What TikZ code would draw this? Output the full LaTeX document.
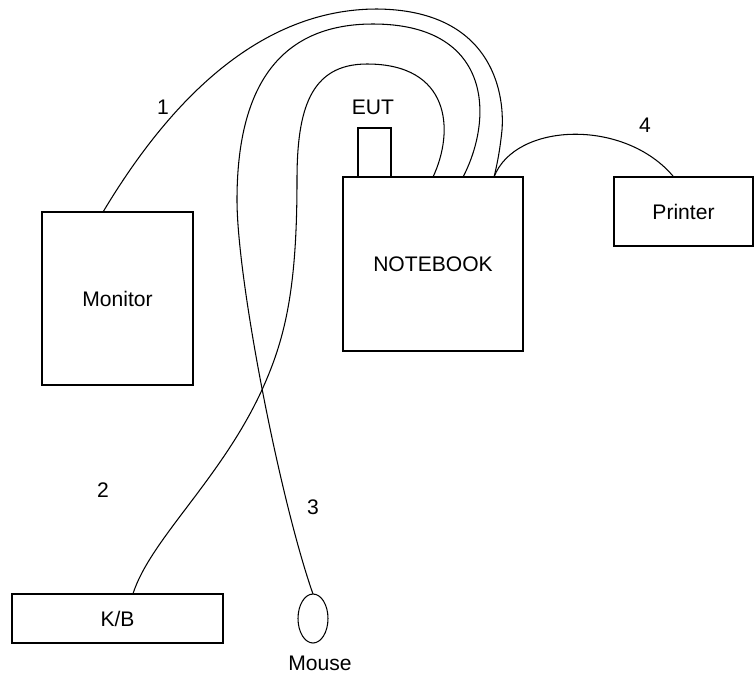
\documentclass[tikz,border=0pt]{standalone}
\usepackage{fontspec}
\setmainfont{Liberation Sans}
\usetikzlibrary{shapes.geometric, positioning, calc}

\begin{document}
\begin{tikzpicture}[
    x=0.02cm, y=-0.02cm,
    every node/.style={font=\fontsize{12}{14}\selectfont},
    box/.style={rectangle, draw, inner sep=0pt, outer sep=0pt, line width=0.6pt},
    mousebox/.style={ellipse, draw, inner sep=0pt, outer sep=0pt, line width=0.6pt, minimum width=0.6cm, minimum height=0.98cm},
    label/.style={inner sep=1pt},
    cable/.style={line width=0.6pt}
]
\useasboundingbox (0,0) rectangle (754,677);

% Devices
\node[box, minimum width=3.02cm, minimum height=3.46cm] (monitor) at (117.5,298.5) {Monitor};
\node[box, minimum width=3.6cm, minimum height=3.48cm] (notebook) at (433,264) {NOTEBOOK};
\node[box, minimum width=0.66cm, minimum height=0.98cm, anchor=south] (eut) at (374.5,177) {};
\node[box, minimum width=2.78cm, minimum height=1.38cm] (printer) at (683.5,211.5) {Printer};
\node[box, minimum width=4.22cm, minimum height=0.98cm] (kb) at (117.5,618.5) {K/B};
\node[mousebox] (mouse) at (313,618.5) {};

% Labels
\node[label] (euttext) at (373,107) {EUT};
\node[label] (mousetext) at (320,663) {Mouse};
\node[label] (n1) at (163,107) {1};
\node[label] (n2) at (103,490) {2};
\node[label] (n3) at (313,507) {3};
\node[label] (n4) at (645,125) {4};

% Cables
\draw[cable] ($(monitor.north west)!0.404!(monitor.north east)$) .. controls (170,100) and (260,9) .. (377,9)
    .. controls (490,10) and (505,90) .. (502,130) .. controls (500,150) and (497,165) .. ($(notebook.north west)!0.839!(notebook.north east)$);
\draw[cable] ($(notebook.north west)!0.667!(notebook.north east)$) .. controls (495,115) and (490,24) .. (373,24)
    .. controls (270,24) and (237,100) .. (237,200) .. controls (237,280) and (280,500) .. (mouse.north);
\draw[cable] (notebook.north) .. controls (455,130) and (450,64) .. (367,64)
    .. controls (310,64) and (297,110) .. (297,180) .. controls (297,290) and (285,340) .. (261,392)
    .. controls (220,480) and (150,540) .. ($(kb.north west)!0.573!(kb.north east)$);
\draw[cable] ($(notebook.north west)!0.839!(notebook.north east)$) .. controls (515,122) and (625,118) .. ($(printer.north west)!0.43!(printer.north east)$);

\end{tikzpicture}
\end{document}
